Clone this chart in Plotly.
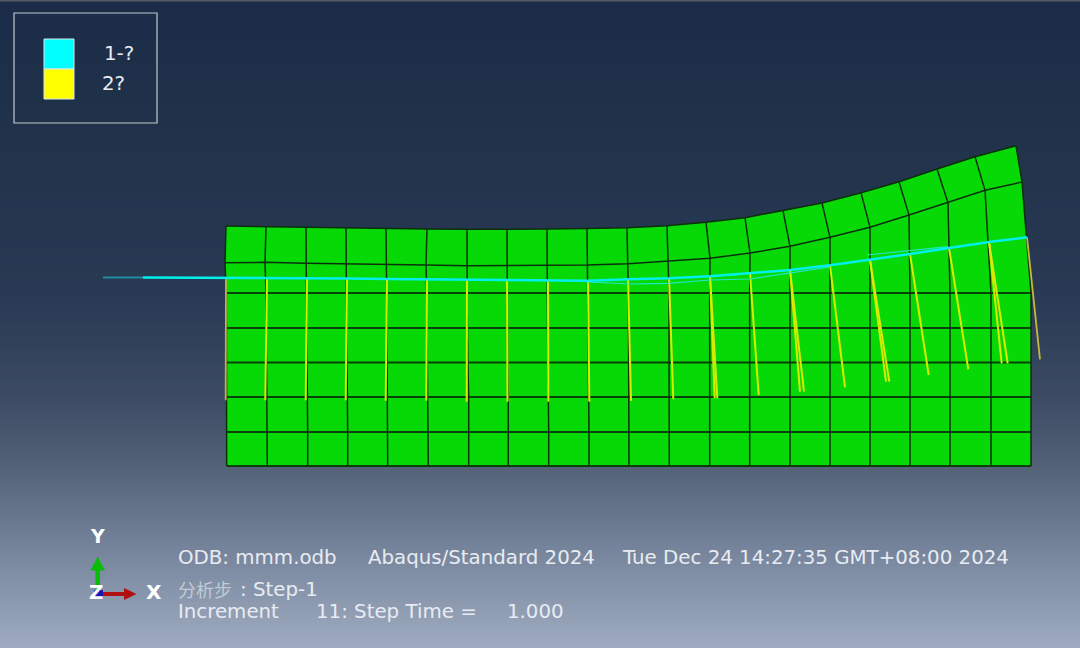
import plotly.graph_objects as go

# background gradient, colour at a given height of the window
bg_stops = [0, 100, 300, 400, 470, 520, 580, 648]
bg_colors = ["#1b2c49", "#1f3049", "#2a3a54", "#3d4b64", "#556379", "#6a788f", "#8391a8", "#9eabc0"]

# mesh nodes, one pair of lists per node row
top_x = [226, 266, 306, 346, 386, 427, 467, 507, 547, 587, 627, 667, 706, 745, 783, 822, 861, 899, 937, 975, 1016]
top_y = [226, 226.7, 227.3, 228, 228.7, 229, 229.3, 229.5, 229, 228.5, 227.7, 225.7, 222.3, 217.7, 210.7, 203,
         192.7, 181.7, 169, 156.7, 145.7]
second_x = [225, 265, 306, 346, 386, 426, 467, 507, 547, 587, 628, 668, 710, 750, 790, 830, 870, 909, 948, 985, 1022]
second_y = [262.7, 262.3, 263.3, 263.7, 264.3, 265, 265.7, 265.7, 265.3, 265, 263.7, 261.3, 258.3, 253, 246.3,
            237.3, 227.3, 215, 202.7, 190.3, 182]
third_x = [226.3, 266, 306.3, 346.3, 386.7, 426.7, 467, 507, 547.3, 587.7, 628.3, 669, 709.7, 749.7, 790, 830, 870,
           910, 950, 991, 1031]
fourth_x = [226.4, 266.3, 306.6, 346.6, 386.9, 427, 467.4, 507.3, 547.6, 588, 628.5, 669, 709.7, 749.7, 790, 830,
            870, 910, 950, 991, 1031]
fifth_x = [226.5, 266.6, 307, 347, 387.2, 427.5, 467.9, 507.6, 548, 588.4, 628.8, 669.2, 709.7, 749.7, 790, 830,
           870, 910, 950, 991, 1031]
sixth_x = [226.7, 267.3, 307.7, 347.7, 387.7, 428.3, 468.7, 508.3, 548.7, 589, 629, 669.3, 709.7, 749.7, 790, 830,
           870, 910, 950, 991, 1031]
flat_rows_y = [293, 328, 362.5, 397, 432, 466]

# cyan strand and the yellow lines hanging off it
cyan_x = [103, 143, 226, 267, 307, 347, 387, 427, 467, 507, 548, 588, 628, 669, 710, 750, 790, 830, 870, 910, 949,
          989, 1027]
cyan_y = [277.5, 277.5, 277.7, 278, 278.3, 278.6, 279, 279.3, 279.6, 280, 280.7, 280.7, 279.3, 278.3, 276.3, 273.3,
          270, 265.3, 260, 254, 248, 242, 237.3]
thin_x = [588, 630, 668, 710, 750, 790, 830]
thin_y = [282, 284, 283.3, 280, 279, 273, 267]
thin2_x = [867, 910, 948]
thin2_y = [255, 250.5, 246.7]
tip_x = [225.7, 265.3, 305.7, 345.7, 385.7, 426.3, 466.7, 507.5, 548.3, 589.3, 631, 673.3, 714.7, 758.7, 800, 845,
         886, 928.7, 968.3, 1001.7, 1040]
tip_y = [400.3, 400.3, 400.3, 400.3, 400.7, 400.7, 401.7, 401.7, 401.7, 401.7, 401, 399.3, 398.3, 395, 391.7,
         387.3, 381.7, 375, 369.3, 363.3, 359.3]
extra_base_x = [710, 790, 870, 989]
extra_base_y = [276.3, 270, 260, 242]
extra_tip_x = [717.3, 804, 889.3, 1007.7]
extra_tip_y = [398.3, 391.7, 381.7, 363.3]

rows_x = [top_x, second_x, third_x, fourth_x, fifth_x, sixth_x, sixth_x, sixth_x]
rows_y = [top_y, second_y] + [[v] * 21 for v in flat_rows_y]

# upper rows and all columns are thin, the flat rows look heavier
thin_line_x, thin_line_y, flat_line_x, flat_line_y = [], [], [], []
for rx, ry in zip(rows_x[:2], rows_y[:2]):
    thin_line_x += rx + [None]
    thin_line_y += ry + [None]
for col in range(21):
    thin_line_x += [rx[col] for rx in rows_x] + [None]
    thin_line_y += [ry[col] for ry in rows_y] + [None]
for rx, ry in zip(rows_x[2:], rows_y[2:]):
    flat_line_x += rx + [None]
    flat_line_y += ry + [None]

outline_x = top_x + [rx[-1] for rx in rows_x[1:]] + rows_x[-1][::-1] + [rx[0] for rx in rows_x[-2:0:-1]]
outline_y = top_y + [ry[-1] for ry in rows_y[1:]] + rows_y[-1][::-1] + [ry[0] for ry in rows_y[-2:0:-1]]

fig = go.Figure()

# Background
heights = list(range(0, 649, 4))
fig.add_trace(go.Heatmap(x=[0, 1080], y=heights, z=[[h, h] for h in heights], zmin=0, zmax=648,
                         colorscale=[[s / 648, c] for s, c in zip(bg_stops, bg_colors)],
                         showscale=False, hoverinfo="skip"))

# Mesh
fig.add_trace(go.Scatter(x=outline_x, y=outline_y, mode="lines", fill="toself", fillcolor="#07d907",
                         line=dict(color="#07d907", width=0), hoverinfo="skip"))
fig.add_trace(go.Scatter(x=flat_line_x, y=flat_line_y, mode="lines", line=dict(color="#0a400a", width=2),
                         hoverinfo="skip"))
fig.add_trace(go.Scatter(x=thin_line_x, y=thin_line_y, mode="lines", line=dict(color="#0a300a", width=1.5),
                         hoverinfo="skip"))

# Yellow lines, the two at the ends look dimmer
base_x, base_y = cyan_x[2:], cyan_y[2:]
yellow_x, yellow_y = [], []
for i in range(1, 20):
    yellow_x += [base_x[i], tip_x[i], None]
    yellow_y += [base_y[i], tip_y[i], None]
for bx, by, tx, ty in zip(extra_base_x, extra_base_y, extra_tip_x, extra_tip_y):
    yellow_x += [bx, tx, None]
    yellow_y += [by, ty, None]
fig.add_trace(go.Scatter(x=yellow_x, y=yellow_y, mode="lines", line=dict(color="#d8ec00", width=2),
                         hoverinfo="skip"))
fig.add_trace(go.Scatter(x=[base_x[0], tip_x[0], None, base_x[-1], tip_x[-1]],
                         y=[base_y[0], tip_y[0], None, base_y[-1], tip_y[-1]],
                         mode="lines", line=dict(color="#c4b83c", width=1.8), hoverinfo="skip"))

# Cyan lines
fig.add_trace(go.Scatter(x=thin_x, y=thin_y, mode="lines", line=dict(color="#20e8c8", width=1.2), hoverinfo="skip"))
fig.add_trace(go.Scatter(x=thin2_x, y=thin2_y, mode="lines", line=dict(color="#20e8c8", width=1.2), hoverinfo="skip"))
fig.add_trace(go.Scatter(x=cyan_x[:2], y=cyan_y[:2], mode="lines", line=dict(color="#1e8ea0", width=2),
                         hoverinfo="skip"))
fig.add_trace(go.Scatter(x=cyan_x[1:], y=cyan_y[1:], mode="lines", line=dict(color="#00f0ee", width=2.5),
                         hoverinfo="skip"))

# Triad arrows
fig.add_trace(go.Scatter(x=[97.7, 97.7], y=[594, 569], mode="lines", line=dict(color="#08bc08", width=4.5),
                         hoverinfo="skip"))
fig.add_trace(go.Scatter(x=[97.7, 90.5, 105, 97.7], y=[556.5, 570.5, 570.5, 556.5], mode="lines", fill="toself",
                         fillcolor="#08bc08", line=dict(color="#08bc08", width=0), hoverinfo="skip"))
fig.add_trace(go.Scatter(x=[100, 125], y=[594, 594], mode="lines", line=dict(color="#b01010", width=4),
                         hoverinfo="skip"))
fig.add_trace(go.Scatter(x=[136.5, 124, 124, 136.5], y=[594, 588, 600, 594], mode="lines", fill="toself",
                         fillcolor="#b01010", line=dict(color="#b01010", width=0), hoverinfo="skip"))
fig.add_trace(go.Scatter(x=[94, 103, 103, 94, 94], y=[590, 590, 599, 599, 590], mode="lines", fill="toself",
                         fillcolor="#1818b0", line=dict(color="#1818b0", width=0), hoverinfo="skip"))

# Legend box and swatches
fig.add_shape(type="rect", x0=14, y0=13, x1=157, y1=123, line=dict(color="#c4c8d0", width=1.2))
fig.add_shape(type="rect", x0=44, y0=39, x1=74, y1=69, fillcolor="#00ffff", line=dict(color="#d8e8ee", width=1))
fig.add_shape(type="rect", x0=44, y0=69, x1=74, y1=99, fillcolor="#ffff00", line=dict(color="#d8e8ee", width=1))
# strip along the top of the window
fig.add_shape(type="rect", x0=0, y0=0, x1=1080, y1=1.5, fillcolor="#555a60", line=dict(width=0))

TEXT = "#e8ecf2"
FONT = "DejaVu Sans"


def label(x, y, text, size=19.8, color=TEXT, family=FONT, anchor="left"):
    fig.add_annotation(x=x, y=y, text=text, xref="x", yref="y", showarrow=False, xanchor=anchor, yanchor="middle",
                       font=dict(family=family, size=size, color=color))


label(102, 53, "1-?")
label(100, 83, "2?")
label(176, 557.5, "ODB: mmm.odb")
label(366, 557.5, "Abaqus/Standard 2024")
label(620, 557.5, "Tue Dec 24 14:27:35 GMT+08:00 2024")
label(176, 589, "分析步", size=18, family="Noto Sans CJK SC", color="#c4cad4")
label(238, 589, ": Step-1")
label(176, 611, "Increment")
label(314, 611, "11: Step Time =")
label(505, 611, "1.000")
label(97.3, 536, "<b>Y</b>", size=19, color="#ffffff", anchor="center")
label(154, 592, "<b>X</b>", size=20, color="#ffffff", anchor="center")
label(96.7, 592, "<b>Z</b>", size=20, color="#ffffff", anchor="center")

fig.update_layout(
    width=1080, height=648, margin=dict(l=0, r=0, t=0, b=0), showlegend=False,
    paper_bgcolor="#1b2c49", plot_bgcolor="#1b2c49",
    xaxis=dict(range=[0, 1080], visible=False, fixedrange=True),
    yaxis=dict(range=[648, 0], visible=False, fixedrange=True),
)

fig.write_html("out.html", config=dict(displayModeBar=False), post_script="document.body.style.margin='0';")
